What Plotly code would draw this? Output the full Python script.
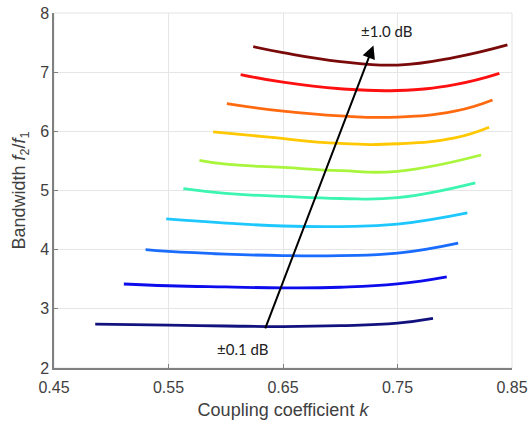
import plotly.graph_objects as go

# Data (coupling coefficient k vs bandwidth f2/f1)
k_01 = [0.486, 0.55, 0.60, 0.65, 0.70, 0.75, 0.781]
bw_01 = [2.74, 2.725, 2.71, 2.70, 2.715, 2.76, 2.84]
k_02 = [0.511, 0.55, 0.60, 0.65, 0.70, 0.75, 0.793]
bw_02 = [3.42, 3.39, 3.37, 3.355, 3.365, 3.42, 3.54]
k_03 = [0.530, 0.55, 0.60, 0.65, 0.70, 0.75, 0.803]
bw_03 = [4.00, 3.97, 3.925, 3.90, 3.90, 3.94, 4.11]
k_04 = [0.548, 0.60, 0.65, 0.70, 0.75, 0.811]
bw_04 = [4.52, 4.45, 4.40, 4.39, 4.43, 4.62]
k_05 = [0.563, 0.60, 0.65, 0.70, 0.75, 0.818]
bw_05 = [5.03, 4.95, 4.90, 4.865, 4.88, 5.13]
k_06 = [0.577, 0.60, 0.65, 0.70, 0.75, 0.823]
bw_06 = [5.51, 5.445, 5.39, 5.335, 5.325, 5.60]
k_07 = [0.589, 0.633, 0.70, 0.75, 0.80, 0.830]
bw_07 = [5.99, 5.91, 5.795, 5.79, 5.89, 6.07]
k_08 = [0.601, 0.65, 0.70, 0.75, 0.80, 0.833]
bw_08 = [6.47, 6.34, 6.26, 6.24, 6.34, 6.53]
k_09 = [0.613, 0.65, 0.70, 0.75, 0.80, 0.839]
bw_09 = [6.96, 6.83, 6.72, 6.69, 6.79, 6.98]
k_10 = [0.624, 0.65, 0.70, 0.75, 0.80, 0.846]
bw_10 = [7.43, 7.33, 7.18, 7.12, 7.25, 7.46]

ks = [k_01, k_02, k_03, k_04, k_05, k_06, k_07, k_08, k_09, k_10]
bws = [bw_01, bw_02, bw_03, bw_04, bw_05, bw_06, bw_07, bw_08, bw_09, bw_10]
colors = ['#12127e', '#0c0cec', '#1a6cff', '#1ec8ff', '#3cf5b0',
          '#a8f53c', '#ffc800', '#ff6a10', '#ff1010', '#7a0a0a']

x_ticks = [0.45, 0.55, 0.65, 0.75, 0.85]
x_ticklabels = ['0.45', '0.55', '0.65', '0.75', '0.85']
y_ticks = [2, 3, 4, 5, 6, 7, 8]

arrow_tail = (0.634, 2.645)
arrow_head = (0.729, 7.45)
label_top = ('±1.0 dB', 0.740, 7.70)
label_bottom = ('±0.1 dB', 0.615, 2.32)

fig = go.Figure()
for k, bw, c in zip(ks, bws, colors):
    fig.add_trace(go.Scatter(x=k, y=bw, mode='lines',
                             line=dict(color=c, width=2.8, shape='spline', smoothing=1.3),
                             showlegend=False, hoverinfo='skip'))

fig.add_annotation(x=arrow_head[0], y=arrow_head[1], ax=arrow_tail[0], ay=arrow_tail[1],
                   xref='x', yref='y', axref='x', ayref='y', text='',
                   showarrow=True, arrowhead=2, arrowsize=1.3, arrowwidth=2,
                   arrowcolor='#000000')
for txt, xx, yy in [label_top, label_bottom]:
    fig.add_annotation(x=xx, y=yy, xref='x', yref='y', text=txt, showarrow=False,
                       font=dict(family='Lato, Noto Sans, sans-serif', size=15, color='#222222'))

fig.add_shape(type='rect', xref='paper', yref='paper', x0=0, y0=0, x1=1, y1=1,
              line=dict(color='#e3e3e3', width=1), layer='below')

tick_font = dict(family='Liberation Sans, Arial, sans-serif', size=16, color='#404040')
title_font = dict(family='Liberation Sans, Arial, sans-serif', size=18, color='#404040')
fig.update_layout(
    width=529, height=426,
    margin=dict(l=54, r=17, t=13, b=58),
    paper_bgcolor='white', plot_bgcolor='white',
    font=tick_font,
    xaxis=dict(range=[0.45, 0.85], tickvals=x_ticks, ticktext=x_ticklabels,
               automargin=False, ticklabeloverflow='allow', ticklabelstandoff=4,
               showgrid=True, gridcolor='#e6e6e6', gridwidth=1,
               showline=True, linecolor='#808080', linewidth=1.5,
               ticks='inside', ticklen=4, tickcolor='#808080',
               zeroline=False, tickfont=tick_font,
               title=dict(text='Coupling coefficient <i>k</i>', font=title_font, standoff=8)),
    yaxis=dict(range=[2, 8], tickvals=y_ticks,
               automargin=False, ticklabeloverflow='allow',
               showgrid=True, gridcolor='#e6e6e6', gridwidth=1,
               showline=True, linecolor='#808080', linewidth=1.5,
               ticks='inside', ticklen=4, tickcolor='#808080',
               zeroline=False, tickfont=tick_font,
               title=dict(text='Bandwidth <i>f</i><sub>2</sub>/<i>f</i><sub>1</sub>',
                          font=title_font, standoff=10)),
)

# remove the default page margin so the figure fills the window exactly
fig.write_html('out.html', config={'displayModeBar': False},
               post_script="document.body.style.margin='0';")
